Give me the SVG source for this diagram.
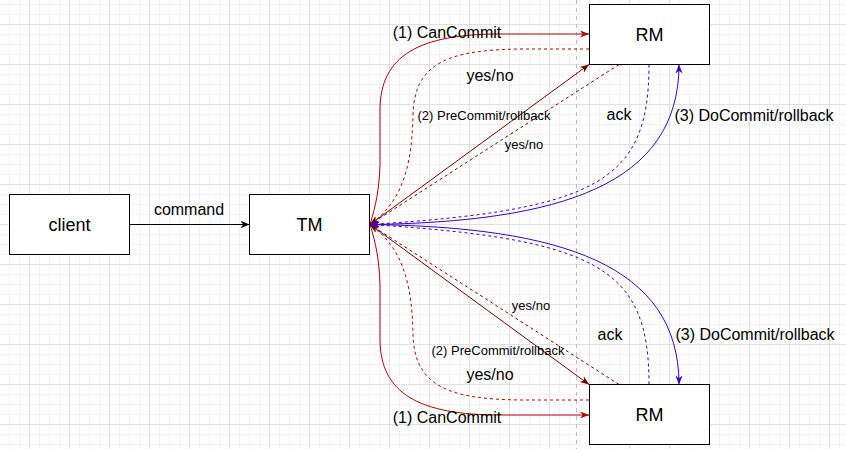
<svg xmlns="http://www.w3.org/2000/svg" width="846" height="449" viewBox="0 0 846 449">
<style>
.box{fill:#fff;stroke:#000;stroke-width:1}
.lbl{font-family:"Liberation Sans",Arial,sans-serif;fill:#000;text-anchor:middle;dominant-baseline:central}
.node{font-size:18px}
.e16{font-size:16px}
.e13{font-size:13px}
.c{fill:none;stroke-width:1}
.red{stroke:#B20000}
.dred{stroke:#6F0000}
.pur{stroke:#3700CC}
.blk{stroke:#000}
.dash{stroke-dasharray:3 3}
</style>
<defs>
<pattern id="grid" patternUnits="userSpaceOnUse" x="29" y="24" width="40" height="40">
<path d="M10.5 0V40M20.5 0V40M30.5 0V40M0 10.5H40M0 20.5H40M0 30.5H40" stroke="#f3f3f3" stroke-width="1" fill="none"/>
<path d="M0.5 0V40M0 0.5H40" stroke="#e0e0e0" stroke-width="1" fill="none"/>
</pattern>
<marker id="aR" viewBox="0 0 10 10" refX="10" refY="5" markerWidth="9" markerHeight="9" markerUnits="userSpaceOnUse" orient="auto"><path d="M0,1 L10,5 L0,9 L3,5 Z" fill="#B20000"/></marker>
<marker id="aD" viewBox="0 0 10 10" refX="10" refY="5" markerWidth="9" markerHeight="9" markerUnits="userSpaceOnUse" orient="auto"><path d="M0,1 L10,5 L0,9 L3,5 Z" fill="#6F0000"/></marker>
<marker id="aP" viewBox="0 0 10 10" refX="10" refY="5" markerWidth="9" markerHeight="9" markerUnits="userSpaceOnUse" orient="auto"><path d="M0,1 L10,5 L0,9 L3,5 Z" fill="#3700CC"/></marker>
<marker id="aK" viewBox="0 0 10 10" refX="10" refY="5" markerWidth="9" markerHeight="9" markerUnits="userSpaceOnUse" orient="auto"><path d="M0,1 L10,5 L0,9 L3,5 Z" fill="#000"/></marker>
</defs>
<rect width="846" height="449" fill="#fff"/>
<rect width="846" height="449" fill="url(#grid)"/>
<line x1="576.5" y1="0" x2="576.5" y2="449" stroke="#bdbdbd" stroke-dasharray="4 4"/>

<g id="client"><rect class="box" x="9.5" y="194.5" width="120" height="60"/><text class="lbl node" x="69.5" y="224.5">client</text></g>
<g id="TM"><rect class="box" x="249.5" y="194.5" width="120" height="60"/><text class="lbl node" x="309.5" y="224.5">TM</text></g>
<g id="RM1"><rect class="box" x="589.5" y="4.5" width="120" height="60"/><text class="lbl node" x="649.5" y="34.5">RM</text></g>
<g id="RM2"><rect class="box" x="589.5" y="384.5" width="120" height="60"/><text class="lbl node" x="649.5" y="414.5">RM</text></g>

<g id="connectors">
<path class="c blk" d="M129.5,224.5 L249.5,224.5" marker-end="url(#aK)"/>
<path class="c red" d="M370,224.5 C376,205 379,190 380,165 L380,110 C380,55 420,34 500,34 L589,34" marker-end="url(#aR)"/>
<path class="c red dash" d="M589,49 L520,49 C450,50 414,62 413,115 C412,160 405,200 370,224.5" marker-end="url(#aR)"/>
<path class="c dred" d="M370,224.5 L589,64.5" marker-end="url(#aD)"/>
<path class="c dred dash" d="M619,64.5 L370,224.5" marker-end="url(#aD)"/>
<path class="c pur dash" d="M649,64.5 C649,180 600,210 370,224.5" marker-end="url(#aP)"/>
<path class="c pur" d="M370,224.5 C560,222 679,185 679,64.5" marker-end="url(#aP)"/>

<path class="c red" d="M370,224.5 C376,244 379,259 380,284 L380,339 C380,394 420,415 500,415 L589,415" marker-end="url(#aR)"/>
<path class="c red dash" d="M589,400 L520,400 C450,399 414,387 413,334 C412,289 405,249 370,224.5" marker-end="url(#aR)"/>
<path class="c dred" d="M370,224.5 L589,384.5" marker-end="url(#aD)"/>
<path class="c dred dash" d="M619,384.5 L370,224.5" marker-end="url(#aD)"/>
<path class="c pur dash" d="M649,384.5 C649,269 600,239 370,224.5" marker-end="url(#aP)"/>
<path class="c pur" d="M370,224.5 C560,227 679,264 679,384.5" marker-end="url(#aP)"/>

<text class="lbl e16" x="189" y="209">command</text>
<text class="lbl e16" x="447" y="32">(1) CanCommit</text>
<text class="lbl e16" x="490" y="75">yes/no</text>
<text class="lbl e13" x="484" y="115">(2) PreCommit/rollback</text>
<text class="lbl e13" x="524" y="144">yes/no</text>
<text class="lbl e16" x="619" y="114">ack</text>
<text class="lbl e16" x="754" y="115">(3) DoCommit/rollback</text>
<text class="lbl e16" x="447" y="417">(1) CanCommit</text>
<text class="lbl e16" x="490" y="374">yes/no</text>
<text class="lbl e13" x="498" y="350">(2) PreCommit/rollback</text>
<text class="lbl e13" x="531" y="305">yes/no</text>
<text class="lbl e16" x="610" y="334">ack</text>
<text class="lbl e16" x="755" y="334">(3) DoCommit/rollback</text>
</g>
</svg>
